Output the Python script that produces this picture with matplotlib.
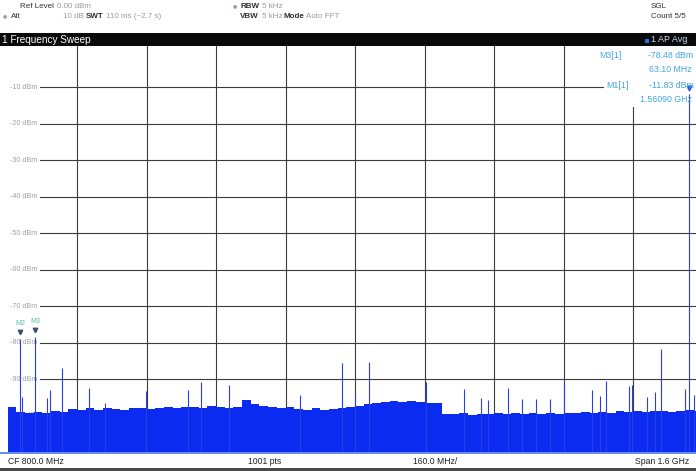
import matplotlib
matplotlib.use("Agg")
import matplotlib.pyplot as plt
from matplotlib.patches import Rectangle

# noise floor, one value per 20 MHz bin (0 .. 1600 MHz), dBm
floor_step = 20.0
floor_dbm = [
    -97.6, -98.9, -99.3, -99.0, -99.2, -98.7, -98.9, -98.2, -98.4, -98.0,
    -98.3, -97.9, -98.1, -98.4, -98.0, -97.8, -98.2, -97.9, -97.6, -98.0,
    -97.7, -97.5, -97.8, -97.4, -97.6, -97.9, -97.5, -95.8, -96.8, -97.2,
    -97.5, -97.8, -97.6, -98.1, -98.3, -98.0, -98.4, -98.2, -97.8, -97.6,
    -97.3, -96.9, -96.5, -96.3, -96.0, -96.2, -95.9, -96.1, -96.4, -96.6,
    -99.4, -99.6, -99.3, -99.7, -99.4, -99.5, -99.2, -99.6, -99.3, -99.4,
    -99.1, -99.4, -99.2, -99.5, -99.1, -99.3, -99.0, -99.2, -98.9, -99.1,
    -98.8, -99.0, -98.7, -99.0, -98.8, -98.6, -98.9, -98.7, -98.5, -98.6,
]

# discrete spurs (MHz, dBm)
spur_mhz = [28.8, 33, 63.1, 91, 98, 125, 188, 224, 319, 416, 445, 510, 673,
            770, 800, 832, 963, 1051, 1090, 1106, 1152, 1184, 1217, 1249,
            1281, 1345, 1364, 1378, 1431, 1438, 1472, 1490, 1504, 1560,
            1568, 1580]
spur_dbm = [-79.0, -94.8, -78.48, -95.1, -92.9, -86.9, -92.4, -96.5, -93.2,
            -92.9, -90.7, -91.5, -94.3, -85.5, -94.0, -85.3, -90.7, -92.6,
            -95.1, -95.7, -92.3, -95.4, -95.4, -95.4, -90.7, -92.9, -94.6,
            -90.4, -91.8, -91.5, -94.8, -93.5, -81.7, -92.6, -11.83, -94.3]

grid_levels = [-10, -20, -30, -40, -50, -60, -70, -80, -90, -100]
grid_freqs = [160 * k for k in range(1, 10)]

markers = ["M2", "M3"]
marker_mhz = [28.8, 63.1]
marker_dbm = [-79.0, -78.48]

W, H = 696, 471
TRACE = "#0b2cf0"
FONT = ["Liberation Sans", "DejaVu Sans"]


def px(x, y):
    return x / W, 1 - y / H


fig = plt.figure(figsize=(W / 100, H / 100), dpi=100)
fig.patch.set_facecolor("white")

# plot area: 0 MHz at x=7.5 px, 1600 MHz at x=702.5 px; 0 dBm at y=50.8, -110 at 452.3
ax_top, ax_bot = 46.0, 452.3
ax = fig.add_axes([7.5 / W, 1 - ax_bot / H, 695 / W, (ax_bot - ax_top) / H])
ax.set_xlim(0, 1600)
ax.set_ylim(-110, 1.3)
ax.axis("off")

# grid
for f in grid_freqs:
    ax.plot([f, f], [-110, 1.3], color="#3c3c3c", lw=0.8, zorder=1)
for lv in grid_levels:
    ax.plot([75, 1600], [lv, lv], color="#3c3c3c", lw=0.8, zorder=1)
    ax.text(6, lv, f"{lv} dBm", color="#a0a0a0", fontsize=5.2, va="center",
            ha="left", family=FONT, zorder=1)

# marker table background
ax.add_patch(Rectangle((1373, -15.3), 400, 17, facecolor="white",
                       edgecolor="none", zorder=2))

# trace
edges = [floor_step * i for i in range(len(floor_dbm) + 1)]
ax.stairs(floor_dbm, edges, baseline=-110, fill=True, color=TRACE, zorder=3)
ax.vlines(spur_mhz, -110, spur_dbm, color="#2a3ee6", lw=0.8, zorder=3)

# markers near DC
for name, f, lv in zip(markers, marker_mhz, marker_dbm):
    ax.plot(f, lv + 1.9, marker="v", ms=3.2, color="#3b5070", zorder=4)
    ax.text(f, lv + 3.4, name, color="#55c0a8", fontsize=5, ha="center",
            va="bottom", family=FONT, zorder=4)
ax.plot(1568, -10.2, marker="v", ms=3.5, color="#2a5ee6", zorder=4)

# marker table text
tc = "#44a6de"
for txt, x, y, ha in [("M3[1]", 622, 56, "right"), ("-78.48 dBm", 648, 56, "left"),
                      ("63.10 MHz", 649, 70, "left"), ("M1[1]", 629, 86, "right"),
                      ("-11.83 dBm", 649, 86, "left"), ("1.56090 GHz", 640, 100, "left")]:
    fig.text(*px(x, y), txt, color=tc, fontsize=6.3, ha=ha, va="center",
             family=FONT)

# header bar
fig.patches.append(Rectangle(px(0, 46), 1, 13 / H, transform=fig.transFigure,
                             facecolor="#0a0a0a", edgecolor="none"))
fig.text(*px(2, 40), "1 Frequency Sweep", color="white", fontsize=7.2,
         va="center", family=FONT)
fig.patches.append(Rectangle(px(645, 42.5), 4 / W, 4 / H, transform=fig.transFigure,
                             facecolor="#2a6ee0", edgecolor="none"))
fig.text(*px(651, 40), "1 AP Avg", color="#c8d8f0", fontsize=6.5, va="center",
         family=FONT)

# header settings
dark, grey = "#303030", "#9a9a9a"
hdr = [
    ("Ref Level", 20, 6, dark, "normal"), ("0.00 dBm", 57, 6, grey, "normal"),
    ("Att", 11, 16, dark, "normal"), ("10 dB", 63, 16, grey, "normal"),
    ("SWT", 86, 16, dark, "bold"), ("110 ms (~2.7 s)", 106, 16, grey, "normal"),
    ("RBW", 240, 6, dark, "bold"), ("5 kHz", 262, 6, grey, "normal"),
    ("VBW", 240, 16, dark, "bold"), ("5 kHz", 262, 16, grey, "normal"),
    ("Mode", 283, 16, dark, "bold"), ("Auto FFT", 306, 16, grey, "normal"),
    ("SGL", 651, 6, dark, "normal"), ("Count 5/5", 651, 17, dark, "normal"),
]
for txt, x, y, c, wt in hdr:
    fig.text(*px(x, y), txt, color=c, fontsize=5.8, va="center", family=FONT,
             weight=wt)
fig.text(*px(3, 16), "\u25cf", color="#90a890", fontsize=3.5, va="center")
fig.text(*px(233, 6), "\u25cf", color="#90a890", fontsize=3.5, va="center")

# footer
fig.patches.append(Rectangle(px(0, 453.5), 1, 1.3 / H, transform=fig.transFigure,
                             facecolor="#6a8cf0", edgecolor="none"))
fig.patches.append(Rectangle(px(0, 471), 1, 3 / H, transform=fig.transFigure,
                             facecolor="#4a4a4a", edgecolor="none"))
for txt, x in [("CF 800.0 MHz", 8), ("1001 pts", 248), ("160.0 MHz/", 413),
               ("Span 1.6 GHz", 635)]:
    fig.text(*px(x, 462), txt, color="#202020", fontsize=6.2, va="center",
             family=FONT)

fig.savefig("out.png", dpi=100)
